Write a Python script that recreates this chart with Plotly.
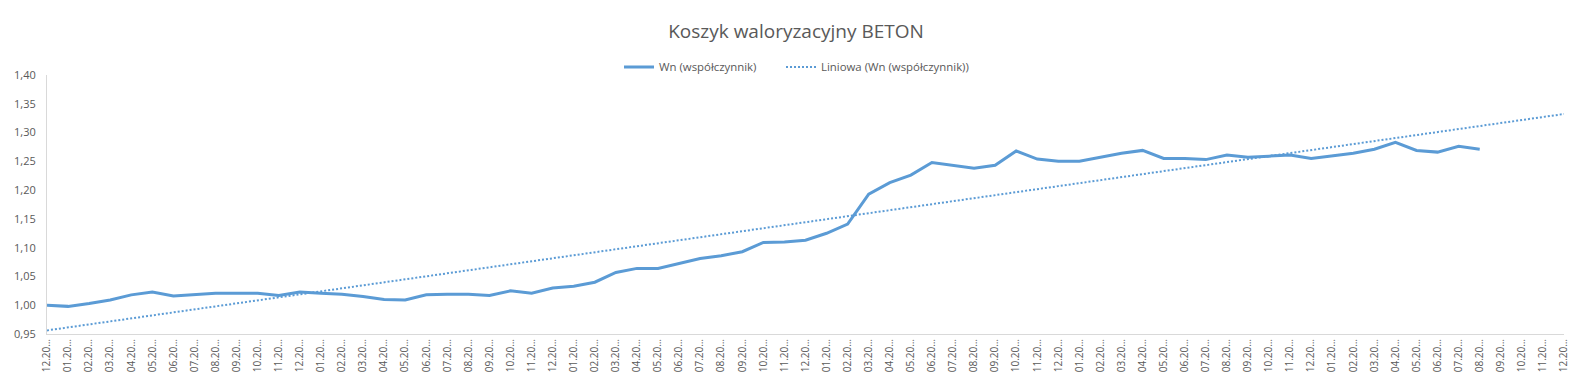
import numpy as np
import plotly.graph_objects as go

title_text = "Koszyk waloryzacyjny BETON"
series_name = "Wn (współczynnik)"
trend_name = "Liniowa (Wn (współczynnik))"

month_labels = ["12", "01", "02", "03", "04", "05", "06", "07", "08", "09", "10", "11",
                "12", "01", "02", "03", "04", "05", "06", "07", "08", "09", "10", "11",
                "12", "01", "02", "03", "04", "05", "06", "07", "08", "09", "10", "11",
                "12", "01", "02", "03", "04", "05", "06", "07", "08", "09", "10", "11",
                "12", "01", "02", "03", "04", "05", "06", "07", "08", "09", "10", "11",
                "12", "01", "02", "03", "04", "05", "06", "07", "08", "09", "10", "11",
                "12"]
tick_labels = [m + ".20…" for m in month_labels]

wn_values = [1.000, 0.998, 1.003, 1.009, 1.018, 1.023, 1.016, 1.019, 1.021, 1.021,
             1.021, 1.017, 1.023, 1.021, 1.019, 1.015, 1.010, 1.009, 1.018, 1.019,
             1.019, 1.017, 1.025, 1.021, 1.030, 1.033, 1.040, 1.057, 1.064, 1.064,
             1.072, 1.081, 1.086, 1.093, 1.109, 1.110, 1.113, 1.125, 1.141, 1.193,
             1.213, 1.226, 1.248, 1.243, 1.238, 1.243, 1.268, 1.254, 1.250, 1.250,
             1.257, 1.264, 1.269, 1.255, 1.255, 1.253, 1.261, 1.257, 1.259, 1.261,
             1.255, 1.259, 1.264, 1.271, 1.283, 1.269, 1.266, 1.276, 1.271]

x_all = np.arange(len(tick_labels))
x_data = np.arange(len(wn_values))
slope, intercept = np.polyfit(x_data, wn_values, 1)
trend_x = [x_all[0], x_all[-1]]
trend_y = [intercept + slope * x_all[0], intercept + slope * x_all[-1]]

blue = "#5B9BD5"
grey = "#595959"

# page body has an 8px default margin; figure is sized so that it fits the window
W, H = 1574, 383

fig = go.Figure()
fig.add_trace(go.Scatter(x=x_data, y=wn_values, mode="lines", name=series_name,
                         line=dict(color=blue, width=3), legend="legend"))
fig.add_trace(go.Scatter(x=trend_x, y=trend_y, mode="lines", name=trend_name,
                         line=dict(color=blue, width=2, dash="2px,2px"), legend="legend2"))

legend_common = dict(orientation="h", xanchor="left", xref="container",
                     yanchor="middle", yref="container",
                     font=dict(size=11.4, color=grey), bgcolor="rgba(0,0,0,0)")

fig.update_layout(
    width=W, height=H,
    paper_bgcolor="white", plot_bgcolor="white",
    margin=dict(l=39, r=18, t=67, b=57, autoexpand=False),
    separators=", ",
    font=dict(family="Open Sans", color=grey, size=11),
    title=dict(text=title_text, x=(796 - 8) / W, xanchor="center", xref="container",
               y=1 - 23 / H, yanchor="middle", yref="container",
               font=dict(family="Open Sans", size=19, color=grey)),
    legend=dict(x=(619 - 8) / W, y=1 - 59 / H, **legend_common),
    legend2=dict(x=(781 - 8) / W, y=1 - 59 / H, **legend_common),
    showlegend=True,
)
fig.update_xaxes(range=[0, 72], tickmode="array", tickvals=list(x_all), ticktext=tick_labels,
                 tickangle=-90, showgrid=False, zeroline=False, showline=True,
                 linecolor="#d9d9d9", linewidth=1, ticks="", automargin=False,
                 tickfont=dict(size=10, color=grey))
fig.update_yaxes(range=[0.95, 1.40], dtick=0.05, tick0=0.95, tickformat=".2f",
                 showgrid=False, zeroline=False, showline=True, linecolor="#d9d9d9",
                 linewidth=1, ticks="", automargin=False, ticklabelstandoff=8,
                 tickfont=dict(size=11, color=grey))

fig.write_html("out.html")
